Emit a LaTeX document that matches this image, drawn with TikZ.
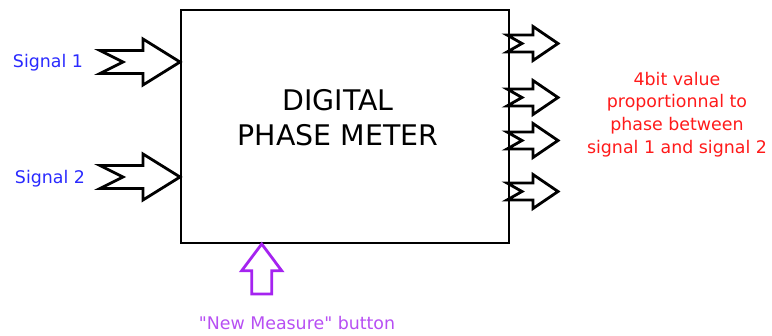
\documentclass[tikz,border=0pt]{standalone}
\usepackage{fontspec}
\setmainfont{DejaVu Sans}[Ligatures=TeXOff]
\definecolor{sigblue}{RGB}{42,42,255}
\definecolor{outred}{RGB}{255,26,26}
\definecolor{btnpurple}{RGB}{165,35,240}
\tikzset{
  label17/.style={font=\fontsize{17.4}{22.7}\selectfont, inner sep=0pt, align=center},
  arrowshape/.style={draw=black, line width=2.8pt, line join=miter, fill=white},
}
\begin{document}
\begin{tikzpicture}[x=1pt,y=-1pt]
\useasboundingbox (0,0) rectangle (772,336);
% main box
\node[draw=black, line width=2.6pt, minimum width=328pt, minimum height=233pt, inner sep=0pt] (meter) at (345,126.5) {};
\node[font=\fontsize{28.4}{35}\selectfont, align=center, inner sep=0pt] (title) at (338,118) {DIGITAL\\PHASE METER};
% input arrows
\foreach \y/\n in {62/in1,177/in2}{
  \coordinate (\n) at (180,\y);
  \draw[arrowshape] (\n) -- ++(-37,-23) -- ++(0,11.5) -- ++(-43,0) -- ++(23,11.5) -- ++(-23,11.5) -- ++(43,0) -- ++(0,11.5) -- cycle;
}
\node[label17, text=sigblue] (s1) at (48,62.5) {Signal 1};
\node[label17, text=sigblue] (s2) at (50,178.5) {Signal 2};
% output arrows
\foreach \y/\n in {43.5/o1,97.5/o2,140.5/o3,191.5/o4}{
  \coordinate (\n) at (558,\y);
  \draw[arrowshape] (\n) -- ++(-25,-17) -- ++(0,8.5) -- ++(-26,0) -- ++(15,8.5) -- ++(-15,8.5) -- ++(26,0) -- ++(0,8.5) -- cycle;
}
\node[label17, text=outred] (outtxt) at (677,114.5) {4bit value\\proportionnal to\\phase between\\signal 1 and signal 2};
% button arrow
\coordinate (btn) at (261.7,244);
\draw[draw=btnpurple, line width=2.8pt, line join=miter, fill=white] (btn) -- ++(20,26.7) -- ++(-10,0) -- ++(0,23.3) -- ++(-20,0) -- ++(0,-23.3) -- ++(-10,0) -- cycle;
\node[label17, text=btnpurple!80!white] (btntxt) at (297,323.5) {"New Measure" button};
\end{tikzpicture}
\end{document}
